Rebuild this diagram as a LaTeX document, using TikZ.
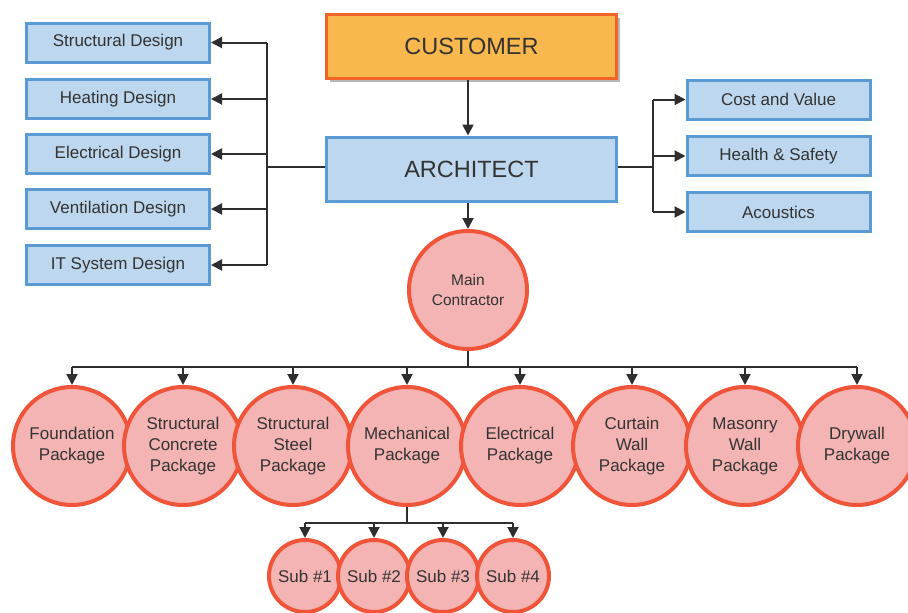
\documentclass[tikz,border=0pt]{standalone}
\usepackage{fontspec}
\setmainfont{Liberation Sans}
\usetikzlibrary{arrows.meta,shadows}

\definecolor{boxfill}{HTML}{BDD7EE}
\definecolor{boxline}{HTML}{5B9BD5}
\definecolor{custfill}{HTML}{F9B84D}
\definecolor{custline}{HTML}{F06428}
\definecolor{circfill}{HTML}{F4B4B4}
\definecolor{circline}{HTML}{F0553A}
\definecolor{ink}{HTML}{333333}
\definecolor{wire}{HTML}{2E2E2E}

\tikzset{
  bluebox/.style={draw=boxline, fill=boxfill, line width=3pt, minimum width=183pt,
    minimum height=39pt, inner sep=0pt, text=ink, font=\fontsize{17}{20}\selectfont},
  bigbox/.style={line width=3pt, minimum width=290pt, minimum height=64pt, inner sep=0pt,
    text=ink, font=\fontsize{23.5}{28}\selectfont},
  pkg/.style={circle, draw=circline, fill=circfill, line width=4pt, minimum size=118pt,
    inner sep=0pt, align=center, text=ink, font=\fontsize{17}{21}\selectfont},
  subpkg/.style={circle, draw=circline, fill=circfill, line width=4pt, minimum size=72pt,
    inner sep=0pt, text=ink, font=\fontsize{17}{20}\selectfont},
  wireline/.style={draw=wire, line width=2pt},
  arr/.style={wireline, -{Triangle[length=11pt,width=11pt]}},
}

\begin{document}
\begin{tikzpicture}[x=1pt, y=-1pt]
\useasboundingbox (0,0) rectangle (908,613);
\fill[white] (0,0) rectangle (908,613);

% top of the hierarchy
\node[bigbox, draw=custline, fill=custfill,
  drop shadow={shadow xshift=3pt, shadow yshift=-3pt, fill=gray!70, opacity=0.8}]
  (cust) at (471.5,46.5) {CUSTOMER};
\node[bigbox, draw=boxline, fill=boxfill] (arch) at (471.5,169) {ARCHITECT};

% design consultants (left)
\node[bluebox] (d1) at (118,42.5) {Structural Design};
\node[bluebox] (d2) at (118,99)   {Heating Design};
\node[bluebox] (d3) at (118,154)  {Electrical Design};
\node[bluebox] (d4) at (118,209)  {Ventilation Design};
\node[bluebox] (d5) at (118,265)  {IT System Design};

% advisors (right)
\node[bluebox] (r1) at (778.5,99.5) {Cost and Value};
\node[bluebox] (r2) at (778.5,156)  {Health \& Safety};
\node[bluebox] (r3) at (778.5,212)  {Acoustics};

% main contractor
\node[pkg, font=\fontsize{15.5}{20}\selectfont] (mc) at (468,290) {Main\\Contractor};

% work packages
\node[pkg] (p1) at (72,446)  {Foundation\\Package};
\node[pkg] (p2) at (183,446) {Structural\\Concrete\\Package};
\node[pkg] (p3) at (293,446) {Structural\\Steel\\Package};
\node[pkg] (p4) at (407,446) {Mechanical\\Package};
\node[pkg] (p5) at (520,446) {Electrical\\Package};
\node[pkg] (p6) at (632,446) {Curtain\\Wall\\Package};
\node[pkg] (p7) at (745,446) {Masonry\\Wall\\Package};
\node[pkg] (p8) at (857,446) {Drywall\\Package};

% subcontractors
\node[subpkg] (s1) at (305,576) {Sub \#1};
\node[subpkg] (s2) at (374,576) {Sub \#2};
\node[subpkg] (s3) at (443,576) {Sub \#3};
\node[subpkg] (s4) at (513,576) {Sub \#4};

% junction points
\coordinate (lsp) at (267,167);
\coordinate (rsp) at (653,167);
\coordinate (bus) at (468,367);
\coordinate (sbus) at (407,523);

% connectors
\draw[arr] (mc |- cust.south) -- (mc |- arch.north);
\draw[arr] (mc |- arch.south) -- (mc.north);

\draw[wireline] (arch.west |- lsp) -- (lsp);
\draw[wireline] (lsp |- d1) -- (lsp |- d5);
\foreach \i in {1,...,5} \draw[arr] (lsp |- d\i) -- (d\i.east);

\draw[wireline] (arch.east |- rsp) -- (rsp);
\draw[wireline] (rsp |- r1) -- (rsp |- r3);
\foreach \i in {1,2,3} \draw[arr] (rsp |- r\i) -- (r\i.west);

\draw[wireline] (mc.south) -- (bus);
\draw[wireline] (p1 |- bus) -- (p8 |- bus);
\foreach \i in {1,...,8} \draw[arr] (p\i |- bus) -- (p\i.north);

\draw[wireline] (p4.south) -- (sbus);
\draw[wireline] (s1 |- sbus) -- (s4 |- sbus);
\foreach \i in {1,...,4} \draw[arr] (s\i |- sbus) -- (s\i.north);
\end{tikzpicture}
\end{document}
